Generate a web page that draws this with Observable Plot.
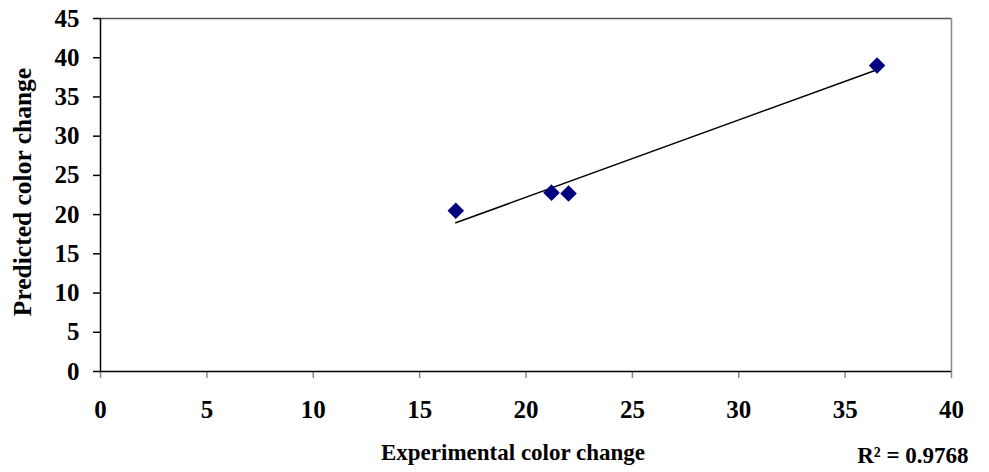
<!DOCTYPE html>
<html><head><meta charset="utf-8">
<script src="https://cdn.jsdelivr.net/npm/d3@7"></script>
<script src="https://cdn.jsdelivr.net/npm/@observablehq/plot@0.6"></script>
<style>
body{margin:0;background:#fff;}
svg{font-family:"Liberation Serif","Times New Roman",serif;font-weight:bold;}
</style></head><body>
<div id="chart"></div>
<script>
const experimental = [16.7, 21.2, 22.0, 36.5];
const predicted = [20.5, 22.8, 22.7, 39.0];
const xTicks = [0, 5, 10, 15, 20, 25, 30, 35, 40];
const yTicks = [0, 5, 10, 15, 20, 25, 30, 35, 40, 45];
const xTitle = "Experimental color change";
const yTitle = "Predicted color change";
const r2Text = "R\u00B2 = 0.9768";

const data = experimental.map((x, i) => ({x, y: predicted[i]}));

const chart = Plot.plot({
  width: 989, height: 472,
  marginLeft: 100, marginRight: 38, marginTop: 18, marginBottom: 101,
  style: {fontFamily: '"Liberation Serif", serif', fontWeight: "bold", fontSize: "24px", background: "white"},
  x: {domain: [0, 40], ticks: xTicks},
  y: {domain: [0, 45], ticks: yTicks},
  marks: [
    Plot.ruleY([45], {stroke: "#555", strokeWidth: 1.5}),
    Plot.ruleX([40], {stroke: "#888", strokeWidth: 1.5}),
    Plot.axisX({ticks: xTicks, tickSize: 7, stroke: "#888", strokeWidth: 1.5, tickFormat: () => "", label: null}),
    Plot.axisY({ticks: yTicks, tickSize: 7, stroke: "black", strokeWidth: 1.5, tickFormat: () => "", label: null}),
    Plot.text(xTicks, {x: d => d, y: 0, dy: 38, fontSize: 25, fill: "black", text: d => String(d)}),
    Plot.text(yTicks, {x: 0, y: d => d, dx: -21, textAnchor: "end", fontSize: 25, fill: "black", text: d => String(d)}),
    Plot.ruleX([0], {stroke: "black", strokeWidth: 1.5}),
    Plot.ruleY([0], {stroke: "black", strokeWidth: 1.5}),
    Plot.linearRegressionY(data, {x: "x", y: "y", ci: 0, stroke: "black", strokeWidth: 1.5}),
    Plot.dot(data, {x: "x", y: "y", symbol: "diamond2", r: 6.5, fill: "#000080", stroke: "#000080"}),
    Plot.text([xTitle], {frameAnchor: "bottom", lineAnchor: "middle", dx: -13, dy: 81, fontSize: 23, fill: "black"}),
    Plot.text([yTitle], {frameAnchor: "left", lineAnchor: "middle", dx: -78, dy: -3, rotate: -90, textAnchor: "middle", fontSize: 25.5, fill: "black"}),
    Plot.text([r2Text], {frameAnchor: "bottom-right", lineAnchor: "middle", dx: 17, dy: 84, textAnchor: "end", fontSize: 23, fill: "black"})
  ]
});
document.getElementById("chart").appendChild(chart);
</script>
</body></html>
